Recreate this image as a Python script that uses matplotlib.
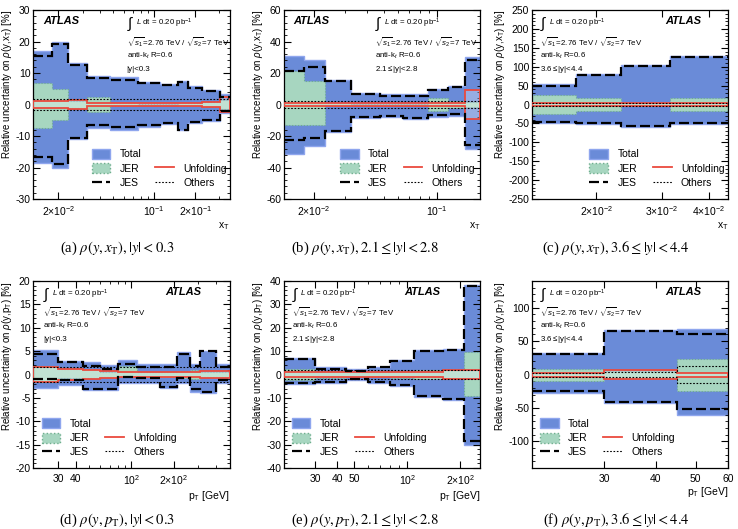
import matplotlib
matplotlib.use("Agg")
import matplotlib.pyplot as plt
import matplotlib.ticker as mticker
from matplotlib.patches import Patch
from matplotlib.lines import Line2D
import numpy as np

plt.rcParams['font.family'] = ['Liberation Sans', 'DejaVu Sans']
plt.rcParams['mathtext.fontset'] = 'custom'
plt.rcParams['mathtext.rm'] = 'Liberation Sans'
plt.rcParams['mathtext.it'] = 'Liberation Sans:italic'
plt.rcParams['mathtext.bf'] = 'Liberation Sans:bold'
plt.rcParams['axes.unicode_minus'] = False

# (a) rho(y, xT), |y| < 0.3
edges_a = [0.0131, 0.018, 0.0236, 0.0325, 0.0476, 0.0766, 0.11, 0.15, 0.1775, 0.222, 0.301, 0.356]
total_up_a = [17, 20, 13.3, 9, 8.6, 7.2, 6.6, 7.6, 5.8, 4.6, 3.2]
total_dn_a = [-18.5, -20, -11, -7.5, -8, -7.2, -6.3, -8.2, -5.8, -5.2, -2.7]
jes_up_a = [15.5, 19.2, 12.5, 8.3, 7.8, 6.7, 6.2, 7.2, 5.3, 4.2, 2.5]
jes_dn_a = [-16.8, -19, -10.5, -6.6, -7.2, -6.6, -5.9, -8, -5.5, -4.9, -2.2]
jer_up_a = [6.7, 5, 1, 2.3, 0.5, 0.3, 0.3, 0.5, 0.5, 0.8, 1.5]
jer_dn_a = [-7.3, -5, -1, -2.5, -0.5, -0.3, -0.3, -0.5, -0.5, -0.8, -1.5]
unf_a = [1.2, 1.2, 1.3, 0.6, 0.6, 0.5, 0.5, 0.6, 0.6, 0.7, 2.5]
oth_a = [1.8, 1.8, 1.9, 1.8, 1.8, 1.8, 1.7, 1.8, 1.8, 1.8, 1.8]

# (b) rho(y, xT), 2.1 <= |y| < 2.8
edges_b = [0.0136, 0.0176, 0.0233, 0.0326, 0.0478, 0.0646, 0.0894, 0.116, 0.145, 0.1765]
total_up_b = [30.5, 28, 15.5, 7.5, 6.5, 6.5, 10, 11.8, 30]
total_dn_b = [-31.5, -26.5, -17.5, -8.5, -8, -9.2, -7.8, -7, -28]
jes_up_b = [21, 23.5, 15, 6.5, 5.6, 5.6, 9.3, 11.3, 28.3]
jes_dn_b = [-22.5, -21.5, -17, -8, -7, -8.6, -6.7, -6, -26]
jer_up_b = [21, 15, 0.8, 0.5, 0.5, 0.5, 4, 2.5, 1.5]
jer_dn_b = [-13, -13, -0.8, -0.5, -0.5, -0.5, -4, -2.5, -1.5]
unf_b = [1.2, 1.2, 1, 1, 1, 1, 1, 1, 9]
oth_b = [2, 2, 2, 2, 2, 2, 2, 2, 2]

# (c) rho(y, xT), 3.6 <= |y| < 4.4
edges_c = [0.01345, 0.01766, 0.02333, 0.03155, 0.0452]
total_up_c = [54, 80, 104, 128]
total_dn_c = [-48, -52, -59, -52]
jes_up_c = [48.5, 77.6, 102, 126]
jes_dn_c = [-46, -50, -57, -48]
jer_up_c = [25, 17, 3, 18]
jer_dn_c = [-24, -17, -3, -18]
unf_c = [5, 5, 5, 5]
oth_c = [3, 3, 3, 3]

# (d) rho(y, pT), |y| < 0.3
edges_d = [20, 30, 45, 60, 80, 110, 160, 210, 260, 310, 400, 500]
total_up_d = [5.3, 2.9, 2.6, 2.1, 3.1, 2.2, 2.2, 4.8, 2.2, 5.1, 2.2]
total_dn_d = [-2.8, -2.2, -3.3, -3.3, -1.8, -1.8, -2.9, -1.8, -3.7, -4, -1.8]
jes_up_d = [4.4, 2.6, 1.8, 1.1, 2.2, 1.6, 1.6, 4.3, 1.8, 5, 1.6]
jes_dn_d = [-1, -1.1, -3, -3.1, -0.6, -0.8, -2.6, -0.7, -3.1, -3.7, -1.1]
jer_up_d = [1.8, 1.1, 1.1, 0.5, 1.8, 0.5, 0.5, 0.8, 1, 0.5, 0.5]
jer_dn_d = [-1.5, -0.7, -0.8, -0.5, -0.3, -0.5, -0.5, -0.8, -1, -0.5, -0.5]
unf_d = [1.7, 1.2, 1, 0.8, 0.5, 0.5, 0.5, 0.5, 0.5, 0.7, 0.7]
oth_d = [1.5, 1.5, 1.5, 1.5, 1.5, 1.5, 1.5, 1.5, 1.5, 1.5, 1.5]

# (e) rho(y, pT), 2.1 <= |y| < 2.8
edges_e = [20, 30, 45, 60, 80, 110, 160, 210, 260]
total_up_e = [7.2, 3, 2.2, 3.3, 6.3, 10.5, 11, 38.5]
total_dn_e = [-4, -3.5, -2.5, -3.8, -5, -9.5, -11, -30]
jes_up_e = [6.5, 2.2, 1.5, 3, 5.8, 10, 10.5, 38]
jes_dn_e = [-3.5, -3, -2, -3, -4.5, -9, -10.5, -28.5]
jer_up_e = [2.5, 1.5, 1, 1, 1.5, 2, 2, 9.5]
jer_dn_e = [-2.5, -1.5, -1, -1, -1.5, -2, -2, -9]
unf_e = [1, 1, 1, 1, 1, 1.2, 2, 2]
oth_e = [2, 2, 2, 2, 2, 2, 2, 2]

# (f) rho(y, pT), 3.6 <= |y| < 4.4
edges_f = [20, 30, 45, 60]
total_up_f = [31.5, 66, 68]
total_dn_f = [-27, -42, -60]
jes_up_f = [30, 65, 61]
jes_dn_f = [-25, -41, -52]
jer_up_f = [8.5, 5, 23]
jer_dn_f = [-9, -5, -24]
unf_f = [3, 6, 3]
oth_f = [3, 4, 12.5]

BLUE = '#6a8bd8'
BLUE_EDGE = '#8fa6ee'
GREEN = '#a7d6c0'
GREEN_EDGE = '#6fae8e'
RED = '#ea4a3e'

fig = plt.figure(figsize=(7.38, 5.29), dpi=100)


def panel(rect, edges, tot_up, tot_dn, jes_up, jes_dn, jer_up, jer_dn, unf, oth,
          ylim, ymajor, xticks, xticklabels, xlabel, ylabel, ybin,
          leg_x, text_x, atlas_x, atlas_ha):
    ax = fig.add_axes(rect)
    unf = np.array(unf)
    oth = np.array(oth)
    ax.stairs(tot_up, edges, baseline=tot_dn, fill=True, facecolor=BLUE,
              edgecolor=BLUE_EDGE, linewidth=1.0, zorder=1)
    ax.stairs(jer_up, edges, baseline=jer_dn, fill=True, facecolor=GREEN,
              edgecolor=GREEN_EDGE, linestyle=':', linewidth=0.8, zorder=2)
    ax.stairs(unf, edges, baseline=-unf, fill=True, facecolor='white',
              alpha=0.3, linewidth=0, zorder=3)
    ax.stairs(unf, edges, baseline=-unf, fill=False, edgecolor=RED,
              linewidth=1.3, zorder=4)
    for v in (oth, -oth):
        ax.stairs(v, edges, baseline=None, color='black', linestyle=(0, (1.5, 1.5)),
                  linewidth=0.8, zorder=5)
    for v in (jes_up, jes_dn):
        ax.stairs(v, edges, baseline=None, color='black', linestyle=(0, (4.5, 1.8)),
                  linewidth=1.6, zorder=6)

    ax.set_xscale('log')
    ax.set_xlim(edges[0], edges[-1])
    ax.set_ylim(*ylim)
    ax.yaxis.set_major_locator(mticker.MultipleLocator(ymajor))
    ax.yaxis.set_minor_locator(mticker.AutoMinorLocator(5))
    ax.xaxis.set_major_locator(mticker.FixedLocator(xticks))
    ax.xaxis.set_major_formatter(mticker.FixedFormatter(xticklabels))
    ax.xaxis.set_minor_locator(mticker.LogLocator(base=10, subs=np.arange(1, 10), numticks=20))
    ax.xaxis.set_minor_formatter(mticker.NullFormatter())
    ax.tick_params(which='both', direction='in', top=True, right=True, labelsize=7.5)
    ax.tick_params(which='major', length=5, width=0.8)
    ax.tick_params(which='minor', length=2.5, width=0.6)
    ax.tick_params(axis='x', pad=4)
    ax.tick_params(axis='y', pad=2)
    for s in ax.spines.values():
        s.set_linewidth(0.9)
    ax.set_xlabel(xlabel, loc='right', fontsize=7.5, labelpad=1)
    ax.set_ylabel(ylabel, loc='top', fontsize=7, labelpad=1)

    handles = [Patch(facecolor=BLUE, edgecolor=BLUE_EDGE),
               Patch(facecolor=GREEN, edgecolor=GREEN_EDGE, linestyle=':'),
               Line2D([], [], color='black', linestyle=(0, (4.5, 1.8)), linewidth=1.6),
               Patch(visible=False),
               Line2D([], [], color=RED, linewidth=1.3),
               Line2D([], [], color='black', linestyle=(0, (1.5, 1.5)), linewidth=0.8)]
    labels = ['Total', 'JER', 'JES', '', 'Unfolding', 'Others']
    ax.legend(handles, labels, ncol=2, loc='upper left', bbox_to_anchor=(leg_x, 0.265),
              frameon=False, fontsize=7.5, borderpad=0, borderaxespad=0,
              handlelength=1.8, handleheight=1.1, handletextpad=0.9,
              columnspacing=1.3, labelspacing=0.35)

    ax.text(atlas_x, 0.943, 'ATLAS', transform=ax.transAxes, ha=atlas_ha, va='center',
            fontsize=8, fontweight='bold', fontstyle='italic')
    ax.text(text_x, 0.925, r'$\int$', transform=ax.transAxes, ha='left', va='center',
            fontsize=11)
    ax.text(text_x + 0.045, 0.93, r'$L$ dt = 0.20 pb$^{-1}$', transform=ax.transAxes,
            ha='left', va='center', fontsize=5.7)
    ax.text(text_x, 0.833, r'$\sqrt{s_{1}}$=2.76 TeV / $\sqrt{s_{2}}$=7 TeV',
            transform=ax.transAxes, ha='left', va='center', fontsize=5.7)
    ax.text(text_x, 0.758, r'anti-k$_{t}$ R=0.6', transform=ax.transAxes,
            ha='left', va='center', fontsize=5.7)
    ax.text(text_x, 0.685, ybin, transform=ax.transAxes, ha='left', va='center',
            fontsize=5.7)
    return ax


top_y, top_h = 0.6238, 0.3573
bot_y, bot_h = 0.1153, 0.3535
col_x = [0.0451, 0.3848, 0.7209]
col_w = 0.2660

xt_label = r'x$_{\mathrm{T}}$'
pt_label = r'p$_{\mathrm{T}}$ [GeV]'
ylab_xt = r'Relative uncertainty on $\rho$(y,x$_{\mathrm{T}}$) [%]'
ylab_pt = r'Relative uncertainty on $\rho$(y,p$_{\mathrm{T}}$) [%]'

panel([col_x[0], top_y, col_w, top_h], edges_a, total_up_a, total_dn_a, jes_up_a, jes_dn_a,
      jer_up_a, jer_dn_a, unf_a, oth_a, (-30, 30), 10,
      [0.02, 0.1, 0.2], [r'2$\times$10$^{-2}$', r'10$^{-1}$', r'2$\times$10$^{-1}$'],
      xt_label, ylab_xt, '|y|<0.3', 0.297, 0.476, 0.05, 'left')
panel([col_x[1], top_y, col_w, top_h], edges_b, total_up_b, total_dn_b, jes_up_b, jes_dn_b,
      jer_up_b, jer_dn_b, unf_b, oth_b, (-60, 60), 20,
      [0.02, 0.1], [r'2$\times$10$^{-2}$', r'10$^{-1}$'],
      xt_label, ylab_xt, r'2.1$\leq$|y|<2.8', 0.286, 0.464, 0.047, 'left')
panel([col_x[2], top_y, col_w, top_h], edges_c, total_up_c, total_dn_c, jes_up_c, jes_dn_c,
      jer_up_c, jer_dn_c, unf_c, oth_c, (-250, 250), 50,
      [0.02, 0.03, 0.04], [r'2$\times$10$^{-2}$', r'3$\times$10$^{-2}$', r'4$\times$10$^{-2}$'],
      xt_label, ylab_xt, r'3.6$\leq$|y|<4.4', 0.292, 0.04, 0.862, 'right')
panel([col_x[0], bot_y, col_w, bot_h], edges_d, total_up_d, total_dn_d, jes_up_d, jes_dn_d,
      jer_up_d, jer_dn_d, unf_d, oth_d, (-20, 20), 5,
      [30, 40, 100, 200], ['30', '40', r'10$^{2}$', r'2$\times$10$^{2}$'],
      pt_label, ylab_pt, '|y|<0.3', 0.043, 0.05, 0.856, 'right')
panel([col_x[1], bot_y, col_w, bot_h], edges_e, total_up_e, total_dn_e, jes_up_e, jes_dn_e,
      jer_up_e, jer_dn_e, unf_e, oth_e, (-40, 40), 10,
      [30, 40, 50, 100, 200], ['30', '40', '50', r'10$^{2}$', r'2$\times$10$^{2}$'],
      pt_label, ylab_pt, r'2.1$\leq$|y|<2.8', 0.039, 0.039, 0.796, 'right')
panel([col_x[2], bot_y, col_w, bot_h], edges_f, total_up_f, total_dn_f, jes_up_f, jes_dn_f,
      jer_up_f, jer_dn_f, unf_f, oth_f, (-140, 140), 50,
      [30, 40, 50, 60], ['30', '40', '50', '60'],
      pt_label, ylab_pt, r'3.6$\leq$|y|<4.4', 0.041, 0.041, 0.86, 'right')

captions_top = [r'(a) $\rho(y, x_{\mathrm{T}}), |y| < 0.3$',
                r'(b) $\rho(y, x_{\mathrm{T}}), 2.1 \leq |y| < 2.8$',
                r'(c) $\rho(y, x_{\mathrm{T}}), 3.6 \leq |y| < 4.4$']
captions_bot = [r'(d) $\rho(y, p_{\mathrm{T}}), |y| < 0.3$',
                r'(e) $\rho(y, p_{\mathrm{T}}), 2.1 \leq |y| < 2.8$',
                r'(f) $\rho(y, p_{\mathrm{T}}), 3.6 \leq |y| < 4.4$']
cap_x = [117 / 738, 365 / 738, 616 / 738]
for i in range(3):
    fig.text(cap_x[i], 0.531, captions_top[i], ha='center', va='center', fontsize=10.5,
             family='Liberation Serif', math_fontfamily='stix')
    fig.text(cap_x[i], 0.017, captions_bot[i], ha='center', va='center', fontsize=10.5,
             family='Liberation Serif', math_fontfamily='stix')

fig.savefig('out.png', dpi=100)
